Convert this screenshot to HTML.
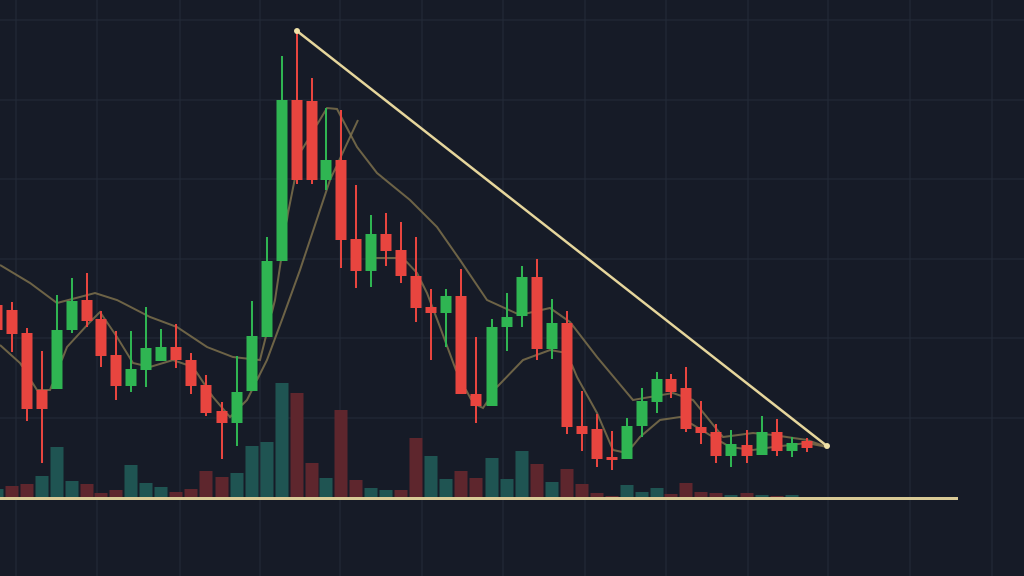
<!DOCTYPE html>
<html><head><meta charset="utf-8"><style>
html,body{margin:0;padding:0;background:#161b27;width:1024px;height:576px;overflow:hidden}
svg{display:block}
</style></head><body>
<svg id="c" width="1024" height="576" xmlns="http://www.w3.org/2000/svg">
<rect width="1024" height="576" fill="#161b27"/>
<g id="grid" stroke="#242b38" stroke-width="1"></g>
<g id="vol"></g>
<polyline fill="none" stroke="#7d704c" stroke-width="2" stroke-opacity="0.85" points="0,265 30,283 57,303 95,293 117,300 150,317 177,327 207,347 233,357 260,360 275,300 288,213 300,153 327,108 337,109 357,147 377,173 410,200 437,227 460,260 487,300 520,315 550,308 570,322 597,357 633,400 673,393 693,400 723,437 753,433 773,435 807,440 827,447"/>
<polyline fill="none" stroke="#7d704c" stroke-width="2" stroke-opacity="0.85" points="0,345 20,363 37,390 50,390 67,347 90,322 100,312 117,337 133,363 150,367 173,360 193,367 213,397 230,417 247,400 267,360 283,317 300,270 330,180 358,120"/>
<polyline fill="none" stroke="#7d704c" stroke-width="2" stroke-opacity="0.85" points="367,258 403,258 417,273 427,293 440,327 457,373 473,403 483,408 497,387 523,360 550,350 567,353 577,377 597,413 613,450 627,453 640,437 660,420 680,417 690,423 713,437 730,447 753,450 773,447 807,443 827,447"/>
<g id="cand"></g>
<line x1="297" y1="31" x2="827" y2="446" stroke="#e6d69c" stroke-width="2.5"/>
<circle cx="297" cy="31" r="3" fill="#f0e2a8"/>
<circle cx="827" cy="446" r="3" fill="#f0e2a8"/>
<rect x="0" y="497" width="958" height="3" fill="#d9ca96"/>
</svg>
<script>
var NS="http://www.w3.org/2000/svg";
function el(p,t,a){var e=document.createElementNS(NS,t);for(var k in a)e.setAttribute(k,a[k]);p.appendChild(e);return e;}
var g=document.getElementById('grid');
[16,97,180,260,340,422,503,585,666,748,828,910,992].forEach(function(x){el(g,'line',{x1:x,y1:0,x2:x,y2:576});});
[20,100,179,259,338,418].forEach(function(y){el(g,'line',{x1:0,y1:y,x2:1024,y2:y});});
// x, open, close, high, low (pixel y)
var C=[
[-3,305,330,298,336],
[12,310,334,302,352],[27,333,409,328,421],[42,390,409,351,463],[57,389,330,295,389],[72,330,301,278,333],
[87,300,321,273,327],[101,319,356,311,367],[116,355,386,331,400],[131,386,369,331,392],[146,370,348,307,387],
[161,361,347,329,361],[176,347,360,324,368],[191,360,386,353,394],[206,385,413,375,416],[222,411,423,402,459],
[237,423,392,356,446],[252,391,336,301,391],[267,337,261,237,337],[282,261,100,56,261],[297,100,180,31,184],
[312,101,180,78,184],[326,180,160,108,190],[341,160,240,110,268],[356,239,271,185,288],[371,271,234,215,287],
[386,234,251,213,266],[401,250,276,222,283],[416,276,308,237,322],[431,307,313,289,360],[446,313,296,289,347],
[461,296,394,269,394],[476,394,406,337,423],[492,406,327,319,406],[507,327,317,293,351],[522,316,277,266,327],
[537,277,349,259,360],[552,349,323,299,359],[567,323,427,311,434],[582,426,434,391,451],[597,429,459,414,467],
[612,457,460,431,470],[627,459,426,418,459],[642,426,401,388,437],[657,402,379,372,413],[671,379,392,374,398],
[686,388,429,367,432],[701,427,433,401,444],[716,432,456,424,463],[731,456,444,430,467],[747,445,456,430,463],
[762,455,432,416,455],[777,432,451,419,456],[792,451,443,437,457],[807,441,448,438,452]];
var cg=document.getElementById('cand');
C.forEach(function(c){var up=c[2]<c[1];var col=up?'#2fb552':'#e8453f';
el(cg,'line',{x1:c[0],y1:c[3],x2:c[0],y2:c[4],stroke:col,'stroke-width':2});
var t=Math.min(c[1],c[2]),h=Math.max(3,Math.abs(c[2]-c[1]));
el(cg,'rect',{x:c[0]-5.5,y:t,width:11,height:h,fill:col});});
// volume: x, top, up?
var V=[[-3,489,1],[12,486,0],[27,484,0],[42,476,1],[57,447,1],[72,481,1],[87,484,0],[101,493,0],[116,490,0],[131,465,1],
[146,483,1],[161,487,1],[176,492,0],[191,489,0],[206,471,0],[222,477,0],[237,473,1],[252,446,1],[267,442,1],[282,383,1],
[297,393,0],[312,463,0],[326,478,1],[341,410,0],[356,480,0],[371,488,1],[386,490,1],[401,490,0],[416,438,0],[431,456,1],
[446,479,1],[461,471,0],[476,478,0],[492,458,1],[507,479,1],[522,451,1],[537,464,0],[552,482,1],[567,469,0],[582,484,0],
[597,493,0],[612,496,0],[627,485,1],[642,492,1],[657,488,1],[671,494,0],[686,483,0],[701,492,0],[716,493,0],[731,495,1],
[747,493,0],[762,495,1],[777,496,0],[792,495,1],[807,497,0]];
var vg=document.getElementById('vol');
V.forEach(function(v){el(vg,'rect',{x:v[0]-6.5,y:v[1],width:13,height:498-v[1],fill:v[2]?'#1f5452':'#5e262d'});});
</script>
</body></html>
